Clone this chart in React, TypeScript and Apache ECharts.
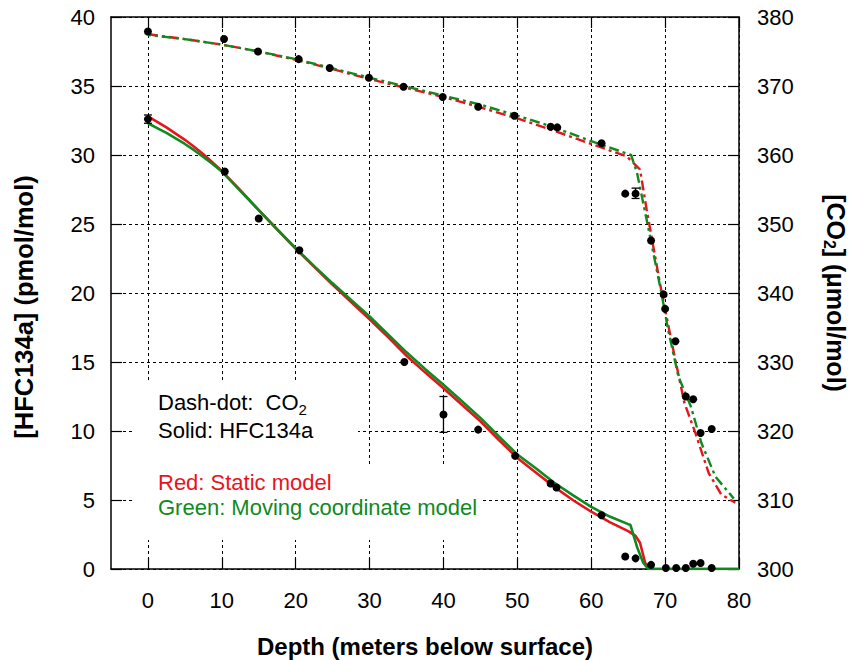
import React, { useEffect, useRef } from "react";
import * as echarts from "echarts";

// ---------- data ----------
const xTicks = [0, 10, 20, 30, 40, 50, 60, 70, 80];

// Measured HFC134a (pmol/mol): [depth, value]
const hfcObs: number[][] = [
  [0, 32.6], [10.4, 28.8], [15, 25.4], [20.5, 23.1], [34.7, 15.0], [40, 11.2],
  [44.7, 10.1], [49.7, 8.2], [54.5, 6.2], [55.3, 5.9], [61.4, 3.9], [64.6, 0.9],
  [66.0, 0.77], [68.1, 0.3], [70.1, 0.07], [71.5, 0.07], [72.8, 0.07], [73.8, 0.38],
  [74.8, 0.43], [76.3, 0.07],
];
// HFC error bars: [depth, low, high]
const hfcErr: number[][] = [[0, 32.3, 32.9], [40, 9.9, 12.5]];

// Measured CO2 (umol/mol): [depth, value]
const co2Obs: number[][] = [
  [0, 377.9], [10.3, 376.8], [14.9, 375.0], [20.4, 373.9], [24.6, 372.6], [29.9, 371.2],
  [34.6, 369.9], [39.9, 368.4], [44.7, 367.0], [49.6, 365.7], [54.5, 364.1], [55.4, 364.0],
  [61.4, 361.7], [64.6, 354.4], [66.0, 354.4], [68.1, 347.6], [69.8, 339.8], [70.0, 337.7],
  [71.4, 333.0], [72.8, 325.0], [73.8, 324.6], [74.8, 319.7], [76.3, 320.3],
];
const co2Err: number[][] = [[66.0, 353.7, 355.2]];

// Model: HFC134a static (red)
const hfcStatic: number[][] = [
  [0, 32.8], [1.25, 32.4], [2.5, 32.0], [3.75, 31.55], [5, 31.1], [6.25, 30.6], [7.5, 30.05],
  [8.75, 29.45], [10, 28.85], [11.25, 28.15], [12.5, 27.45], [15, 26.0],
  [17.5, 24.6], [20, 23.2], [22.5, 21.9], [25, 20.6], [27.5, 19.35], [30, 18.1], [32.5, 16.8],
  [35, 15.45], [37.5, 14.25], [40, 13.1], [42.5, 11.9], [45, 10.7], [47.5, 9.35], [50, 8.05],
  [52.5, 7.0], [55, 5.95], [57.5, 5.0], [60, 4.15], [62.5, 3.4], [65, 2.75], [66, 2.4],
  [66.6, 1.9], [67.3, 0.45], [68, 0], [70, 0], [80, 0],
];
// Model: HFC134a moving coordinate (green)
const hfcMoving: number[][] = [
  [0, 32.3], [1.25, 31.95], [2.5, 31.6], [3.75, 31.2], [5, 30.8], [6.25, 30.35], [7.5, 29.85],
  [8.75, 29.35], [10, 28.8], [11.25, 28.1], [12.5, 27.4], [15, 26.0],
  [17.5, 24.6], [20, 23.25], [22.5, 21.95], [25, 20.7], [27.5, 19.5], [30, 18.3], [32.5, 17.0],
  [35, 15.7], [37.5, 14.5], [40, 13.35], [42.5, 12.15], [45, 10.95], [47.5, 9.6], [50, 8.3],
  [52.5, 7.3], [55, 6.25], [57.5, 5.35], [60, 4.5], [62.5, 3.8], [65, 3.25], [65.3, 3.2],
  [66.2, 1.6], [67, 0.5], [67.7, 0], [70, 0], [80, 0],
];
// Model: CO2 static (red)
const co2Static: number[][] = [
  [0, 377.5], [5, 376.8], [10, 376.0], [15, 375.0], [20, 373.8], [25, 372.45], [30, 371.0],
  [35, 369.7], [40, 368.4], [45, 366.9], [50, 365.3], [55, 363.5], [60, 361.6], [64.8, 359.8],
  [66.6, 357.9], [67.5, 352.1], [69.3, 341.4], [70.9, 332.8], [72.6, 324.1], [74.1, 319.7],
  [75.9, 313.9], [77.6, 310.8], [79.5, 309.6],
];
// Model: CO2 moving coordinate (green)
const co2Moving: number[][] = [
  [0, 377.4], [5, 376.8], [10, 376.0], [15, 375.0], [20, 373.9], [25, 372.55], [30, 371.2],
  [35, 369.9], [40, 368.6], [45, 367.3], [50, 365.7], [55, 364.0], [60, 362.0], [65.4, 360.0],
  [66.2, 357.4], [67.6, 350.1], [69.5, 340.0], [70.4, 334.7], [71.8, 327.9], [73.5, 323.5],
  [74.9, 318.3], [76.8, 313.4], [79.3, 310.2],
];

// ---------- styles ----------
const FONT = "'Liberation Sans', Arial, Helvetica, sans-serif";
const RED = "#e8141c";
const GREEN = "#0f8a1f";
const DASHDOT = [10, 4, 3, 4];

const errRender = (params: any, api: any) => {
  const x = api.value(0);
  const lo = api.value(1);
  const hi = api.value(2);
  const top = api.coord([x, hi]);
  const bot = api.coord([x, lo]);
  const w = 4;
  const st = { stroke: "#000", lineWidth: 1.3 };
  return {
    type: "group",
    children: [
      { type: "line", shape: { x1: top[0], y1: top[1], x2: bot[0], y2: bot[1] }, style: st },
      { type: "line", shape: { x1: top[0] - w, y1: top[1], x2: top[0] + w, y2: top[1] }, style: st },
      { type: "line", shape: { x1: bot[0] - w, y1: bot[1], x2: bot[0] + w, y2: bot[1] }, style: st },
    ],
  };
};

export default function App() {
  const ref = useRef<HTMLDivElement>(null);
  useEffect(() => {
    if (!ref.current) return;
    const chart = echarts.init(ref.current, null, { renderer: "svg" });
    const axisLine = { show: true, onZero: false, lineStyle: { color: "#000", width: 1.5 } };
    const tick = { show: true, inside: true, length: 11, lineStyle: { color: "#000", width: 1.2 } };
    const grid = { show: true, lineStyle: { color: "#000", width: 1, type: [3, 3] } };
    const label = { color: "#000", fontSize: 22, fontFamily: FONT };
    chart.setOption({
      animation: false,
      backgroundColor: "#fff",
      grid: { left: 111, right: 110, top: 17, bottom: 91, containLabel: false, outerBoundsMode: "none" },
      xAxis: [
        {
          type: "value", min: -5, max: 80, position: "bottom",
          name: "Depth (meters below surface)", nameLocation: "middle", nameGap: 65,
          nameTextStyle: { fontSize: 24, fontWeight: "bold", color: "#000", fontFamily: FONT },
          axisLine, axisTick: { ...tick, customValues: xTicks },
          axisLabel: { ...label, margin: 20, customValues: xTicks },
          splitLine: grid,
        },
        {
          type: "value", min: -5, max: 80, position: "top",
          axisLine, axisTick: { ...tick, customValues: xTicks },
          axisLabel: { show: false }, splitLine: { show: false },
        },
      ],
      yAxis: [
        {
          type: "value", min: 0, max: 40, interval: 5, position: "left",
          name: "[HFC134a] (pmol/mol)", nameLocation: "middle", nameGap: 74, nameRotate: 90,
          nameTextStyle: { fontSize: 25.5, fontWeight: "bold", color: "#000", fontFamily: FONT, padding: [0, 28, 0, 0] },
          axisLine, axisTick: tick, axisLabel: { ...label, margin: 16 }, splitLine: grid,
        },
        {
          type: "value", min: 300, max: 380, interval: 10, position: "right",
          name: "[CO{sub|2}] (μmol/mol)", nameLocation: "middle", nameGap: 82, nameRotate: -90,
          nameTextStyle: {
            fontSize: 25, fontWeight: "bold", color: "#000", fontFamily: FONT,
            rich: { sub: { fontSize: 16, fontWeight: "bold", color: "#000", fontFamily: FONT, padding: [14, 0, 0, 0] } },
          },
          axisLine, axisTick: tick, axisLabel: { ...label, margin: 18 }, splitLine: { show: false },
        },
      ],
      series: [
        { type: "line", name: "CO2 static", yAxisIndex: 1, data: co2Static, showSymbol: false, lineStyle: { color: RED, width: 2.4, type: DASHDOT }, z: 3 },
        { type: "line", name: "CO2 moving", yAxisIndex: 1, data: co2Moving, showSymbol: false, lineStyle: { color: GREEN, width: 2.4, type: DASHDOT, dashOffset: 7 }, z: 3 },
        { type: "line", name: "HFC134a static", yAxisIndex: 0, data: hfcStatic, showSymbol: false, lineStyle: { color: RED, width: 2.6 }, z: 3 },
        { type: "line", name: "HFC134a moving", yAxisIndex: 0, data: hfcMoving, showSymbol: false, lineStyle: { color: GREEN, width: 2.6 }, z: 3 },
        { type: "custom", name: "HFC err", yAxisIndex: 0, data: hfcErr, renderItem: errRender, encode: { x: 0, y: [1, 2] }, z: 4 },
        { type: "custom", name: "CO2 err", yAxisIndex: 1, data: co2Err, renderItem: errRender, encode: { x: 0, y: [1, 2] }, z: 4 },
        { type: "scatter", name: "HFC134a obs", yAxisIndex: 0, data: hfcObs, symbolSize: 8, itemStyle: { color: "#000", opacity: 1 }, z: 5 },
        { type: "scatter", name: "CO2 obs", yAxisIndex: 1, data: co2Obs, symbolSize: 8, itemStyle: { color: "#000", opacity: 1 }, z: 5 },
      ],
      graphic: [
        { type: "rect", z: 1, shape: { x: 133, y: 380, width: 225, height: 87 }, style: { fill: "#fff" } },
        { type: "rect", z: 1, shape: { x: 133, y: 467, width: 349, height: 73 }, style: { fill: "#fff" } },
        {
          type: "text", z: 6, x: 158, y: 402,
          style: {
            text: "Dash-dot:  CO{sub|2}", fill: "#000", fontSize: 22, fontFamily: FONT, verticalAlign: "middle",
            rich: { sub: { fontSize: 15, fill: "#000", fontFamily: FONT, padding: [14, 0, 0, 0] } },
          },
        },
        { type: "text", z: 6, x: 158, y: 430, style: { text: "Solid: HFC134a", fill: "#000", fontSize: 22, fontFamily: FONT, verticalAlign: "middle" } },
        { type: "text", z: 6, x: 158, y: 482, style: { text: "Red: Static model", fill: RED, fontSize: 22, fontFamily: FONT, verticalAlign: "middle" } },
        { type: "text", z: 6, x: 158, y: 507, style: { text: "Green: Moving coordinate model", fill: GREEN, fontSize: 22, fontFamily: FONT, verticalAlign: "middle" } },
      ],
    });
    return () => chart.dispose();
  }, []);
  return <div ref={ref} style={{ position: "fixed", left: 0, top: 0, width: 849, height: 660 }} />;
}
